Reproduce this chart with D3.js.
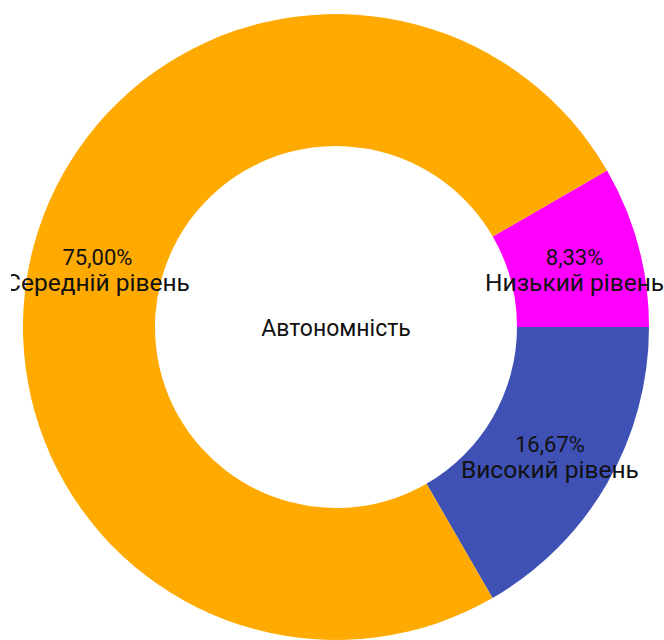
<!DOCTYPE html>
<html>
<head>
<meta charset="utf-8">
<script src="https://cdn.jsdelivr.net/npm/d3@7/dist/d3.min.js"></script>
<style>
  html, body { margin: 0; padding: 0; background: #fff; overflow: hidden; }
  svg { display: block; }
  text { font-family: Roboto, "Noto Sans", sans-serif; }
</style>
</head>
<body>
<svg id="chart" width="664" height="640"></svg>
<script>
// Autonomy level distribution
const categories = ["Низький рівень", "Високий рівень", "Середній рівень"];
const values = [8.33, 16.67, 75.00];
const colors = ["#ff00ff", "#3f51b5", "#ffaa00"];
const centerTitle = "Автономність";

const width = 664, height = 640;
const cx = 336, cy = 327;
const outerR = 313, innerR = 181;

const svg = d3.select("#chart");

// labels are clipped to the drawing area
svg.append("defs").append("clipPath")
  .attr("id", "plot-clip")
  .append("rect")
  .attr("x", 11).attr("y", 0)
  .attr("width", width - 11).attr("height", height);

const g = svg.append("g").attr("transform", `translate(${cx},${cy})`);

const data = categories.map((c, i) => ({ name: c, value: values[i], color: colors[i] }));

const pie = d3.pie()
  .sort(null)
  .value(d => d.value)
  .startAngle(Math.PI / 3)
  .endAngle(Math.PI / 3 + 2 * Math.PI);

const arc = d3.arc().innerRadius(innerR).outerRadius(outerR);

const arcs = pie(data);

g.selectAll("path.slice")
  .data(arcs)
  .join("path")
  .attr("class", "slice")
  .attr("d", arc)
  .attr("fill", d => d.data.color);

const fmt = v => v.toFixed(2).replace(".", ",") + "%";

const labelLayer = svg.append("g").attr("clip-path", "url(#plot-clip)")
  .append("g").attr("transform", `translate(${cx},${cy})`);

const labels = labelLayer.selectAll("g.label")
  .data(arcs)
  .join("g")
  .attr("class", "label")
  .attr("transform", d => `translate(${arc.centroid(d)})`);

labels.append("text")
  .attr("text-anchor", "middle")
  .attr("y", 2)
  .attr("font-size", 22)
  .attr("fill", "#111")
  .text(d => fmt(d.data.value));

labels.append("text")
  .attr("text-anchor", "middle")
  .attr("y", 28)
  .attr("font-size", 24.5)
  .attr("fill", "#111")
  .text(d => d.data.name);

g.append("text")
  .attr("text-anchor", "middle")
  .attr("y", 9)
  .attr("font-size", 23)
  .attr("fill", "#111")
  .text(centerTitle);
</script>
</body>
</html>
